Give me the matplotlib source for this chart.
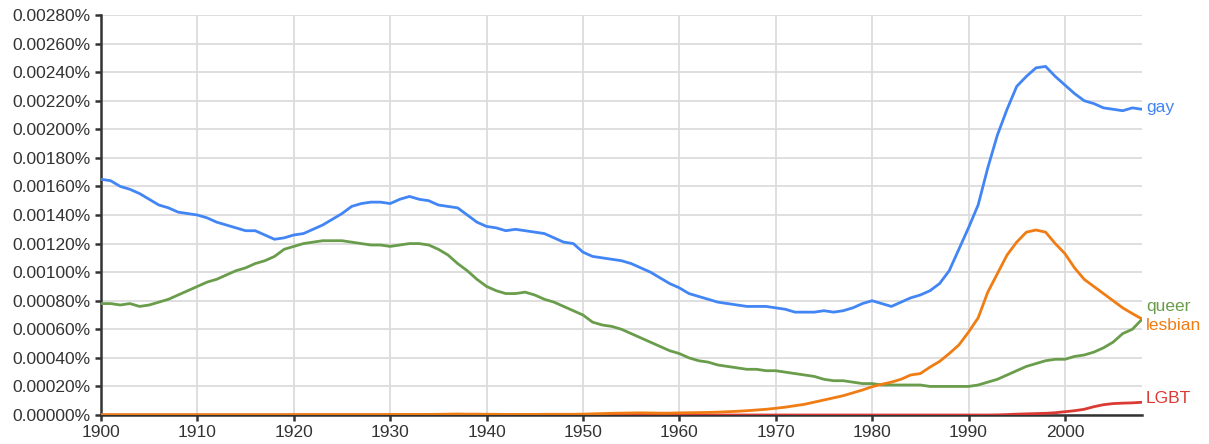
import matplotlib
matplotlib.use("Agg")
import matplotlib.pyplot as plt
from matplotlib.ticker import FuncFormatter

years = list(range(1900, 2009))

gay = [0.00165, 0.00164, 0.00160, 0.00158, 0.00155, 0.00151, 0.00147, 0.00145, 0.00142, 0.00141,
       0.00140, 0.00138, 0.00135, 0.00133, 0.00131, 0.00129, 0.00129, 0.00126, 0.00123, 0.00124,
       0.00126, 0.00127, 0.00130, 0.00133, 0.00137, 0.00141, 0.00146, 0.00148, 0.00149, 0.00149,
       0.00148, 0.00151, 0.00153, 0.00151, 0.00150, 0.00147, 0.00146, 0.00145, 0.00140, 0.00135,
       0.00132, 0.00131, 0.00129, 0.00130, 0.00129, 0.00128, 0.00127, 0.00124, 0.00121, 0.00120,
       0.00114, 0.00111, 0.00110, 0.00109, 0.00108, 0.00106, 0.00103, 0.00100, 0.00096, 0.00092,
       0.00089, 0.00085, 0.00083, 0.00081, 0.00079, 0.00078, 0.00077, 0.00076, 0.00076, 0.00076,
       0.00075, 0.00074, 0.00072, 0.00072, 0.00072, 0.00073, 0.00072, 0.00073, 0.00075, 0.00078,
       0.00080, 0.00078, 0.00076, 0.00079, 0.00082, 0.00084, 0.00087, 0.00092, 0.00101, 0.00116,
       0.00131, 0.00147, 0.00173, 0.00196, 0.00214, 0.00230, 0.00237, 0.00243, 0.00244, 0.00237,
       0.00231, 0.00225, 0.00220, 0.00218, 0.00215, 0.00214, 0.00213, 0.00215, 0.00214]

queer = [0.00078, 0.00078, 0.00077, 0.00078, 0.00076, 0.00077, 0.00079, 0.00081, 0.00084, 0.00087,
         0.00090, 0.00093, 0.00095, 0.00098, 0.00101, 0.00103, 0.00106, 0.00108, 0.00111, 0.00116,
         0.00118, 0.00120, 0.00121, 0.00122, 0.00122, 0.00122, 0.00121, 0.00120, 0.00119, 0.00119,
         0.00118, 0.00119, 0.00120, 0.00120, 0.00119, 0.00116, 0.00112, 0.00106, 0.00101, 0.00095,
         0.00090, 0.00087, 0.00085, 0.00085, 0.00086, 0.00084, 0.00081, 0.00079, 0.00076, 0.00073,
         0.00070, 0.00065, 0.00063, 0.00062, 0.00060, 0.00057, 0.00054, 0.00051, 0.00048, 0.00045,
         0.00043, 0.00040, 0.00038, 0.00037, 0.00035, 0.00034, 0.00033, 0.00032, 0.00032, 0.00031,
         0.00031, 0.00030, 0.00029, 0.00028, 0.00027, 0.00025, 0.00024, 0.00024, 0.00023, 0.00022,
         0.00022, 0.00021, 0.00021, 0.00021, 0.00021, 0.00021, 0.00020, 0.00020, 0.00020, 0.00020,
         0.00020, 0.00021, 0.00023, 0.00025, 0.00028, 0.00031, 0.00034, 0.00036, 0.00038, 0.00039,
         0.00039, 0.00041, 0.00042, 0.00044, 0.00047, 0.00051, 0.00057, 0.00060, 0.00067]

lesbian = [0.000002, 0.000002, 0.000002, 0.000002, 0.000002, 0.000002, 0.000002, 0.000002, 0.000002, 0.000002,
           0.000002, 0.000002, 0.000002, 0.000002, 0.000002, 0.000002, 0.000002, 0.000002, 0.000002, 0.000002,
           0.000003, 0.000003, 0.000003, 0.000003, 0.000003, 0.000003, 0.000003, 0.000003, 0.000003, 0.000003,
           0.000004, 0.000004, 0.000004, 0.000004, 0.000004, 0.000005, 0.000006, 0.000007, 0.000006, 0.000006,
           0.000005, 0.000005, 0.000004, 0.000004, 0.000004, 0.000004, 0.000005, 0.000005, 0.000005, 0.000005,
           0.000006, 0.000008, 0.000010, 0.000012, 0.000013, 0.000014, 0.000015, 0.000014, 0.000013, 0.000013,
           0.000015, 0.000016, 0.000017, 0.000018, 0.000020, 0.000023, 0.000026, 0.000030, 0.000035, 0.000040,
           0.000047, 0.000055, 0.000065, 0.000075, 0.000090, 0.000105, 0.000120, 0.000135, 0.000155, 0.000175,
           0.000198, 0.000215, 0.000230, 0.000250, 0.000280, 0.000290, 0.000335, 0.000375, 0.000430, 0.000490,
           0.000580, 0.000680, 0.000860, 0.000990, 0.001120, 0.001210, 0.001280, 0.001295, 0.001280, 0.001200,
           0.001130, 0.001030, 0.000950, 0.000900, 0.000850, 0.000800, 0.000750, 0.000710, 0.000672]

lgbt = [0.0] * 93 + [0.000001, 0.000003, 0.000006, 0.000008, 0.000010, 0.000012, 0.000016,
                     0.000023, 0.000030, 0.000040, 0.000058, 0.000072, 0.000080, 0.000083, 0.000085, 0.000089]

series_names = ["gay", "queer", "lesbian", "LGBT"]
series_colors = ["#4285f4", "#6a9d4b", "#f07c14", "#db3a34"]
series_values = [gay, queer, lesbian, lgbt]
label_offsets_px = [(4, 2), (4, 13), (4, -6), (4, 4)]

y_ticks = [i * 0.0002 for i in range(15)]
x_ticks = list(range(1900, 2010, 10))

plt.rcParams['font.family'] = ['Liberation Sans', 'DejaVu Sans']

fig = plt.figure(figsize=(12.09, 4.44), dpi=100)
ax = fig.add_axes([101 / 1209, 1 - 415 / 444, (1142 - 101) / 1209, 400 / 444])

for spine in ["top", "right"]:
    ax.spines[spine].set_visible(False)
for spine in ["left", "bottom"]:
    ax.spines[spine].set_color("#333333")
    ax.spines[spine].set_linewidth(1.8)

ax.grid(True, color="#dcdcdc", linewidth=1.3)
ax.set_axisbelow(True)

for i in [0, 1, 3, 2]:
    ax.plot(years, series_values[i], color=series_colors[i], linewidth=2.0,
            solid_joinstyle="round", zorder=3 + (1 if i == 2 else 0))

for name, col, vals, off in zip(series_names, series_colors, series_values, label_offsets_px):
    ax.annotate(name, xy=(years[-1], vals[-1]), xytext=(off[0] * 0.72, off[1] * 0.72),
                textcoords="offset points", color=col, fontsize=12.5,
                ha="left", va="center", annotation_clip=False)

ax.set_xlim(1900, 2008)
ax.set_ylim(0, 0.0028)
ax.set_xticks(x_ticks)
ax.set_yticks(y_ticks)
ax.yaxis.set_major_formatter(FuncFormatter(lambda v, p: f"{v:.5f}%"))
ax.tick_params(axis="both", direction="out", length=4.3, width=1.8, color="#333333",
               labelsize=12.5, labelcolor="#333333", pad=3)

fig.savefig("out.png", dpi=100)
